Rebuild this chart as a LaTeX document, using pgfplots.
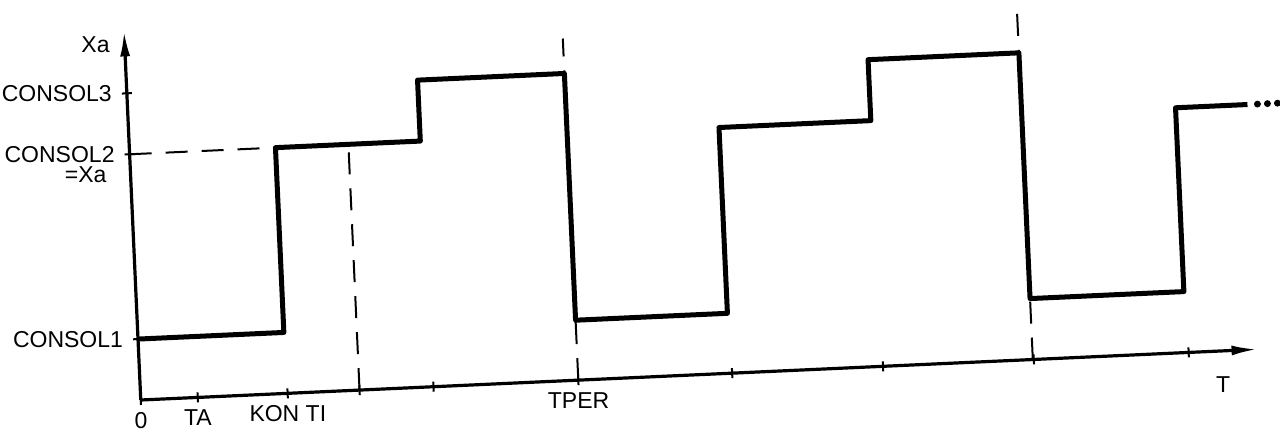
\documentclass[border=0pt]{standalone}
\usepackage{pgfplots}
\pgfplotsset{compat=1.18}
\usetikzlibrary{arrows.meta}
\usepackage{fontspec}
\setmainfont{Liberation Sans}
\begin{document}
\begin{tikzpicture}[font=\fontsize{11.5}{13}\selectfont]
\begin{axis}[
  rotate around={2.6:(0,0)},
  x=0.5pt, y=0.5pt,
  xmin=0, xmax=1118, ymin=0, ymax=370,
  axis lines=left,
  axis line style={line width=1.6pt, -{Latex[length=13pt,width=5pt]}},
  clip=false,
  xtick={0,57,147,219,293,438,592,743,894,1049},
  xticklabels={0,TA,KON TI,,,TPER,,,,},
  ytick={61,246,307},
  yticklabels={CONSOL1,CONSOL2,CONSOL3},
  tick align=center,
  major tick length=5pt,
  tick style={line width=1pt, black},
  ticklabel style={font=\fontsize{11.5}{13}\selectfont},
  yticklabel style={xshift=-1.5pt},
]
\addplot[black, line width=1pt, dash pattern=on 11pt off 7pt] coordinates {(0,246)(146,246)};
\addplot[black, line width=1pt, dash pattern=on 11pt off 7pt] coordinates {(219,0)(219,248)};
\addplot[black, line width=1pt, dash pattern=on 11pt off 7pt] coordinates {(438,0)(438,342)};
\addplot[black, line width=1pt, dash pattern=on 11pt off 7pt] coordinates {(893,0)(893,350)};
\addplot[black, line width=2.5pt, line join=round] coordinates {
(0,61)(146,61)(146,246)(291,246)(291,307)(438,307)(438,60)(590,60)(590,246)(742,246)(742,307)(893,307)(893,61)(1047,61)(1047,245)(1119,245)};
\addplot[black, only marks, mark=*, mark size=1.5pt] coordinates {(1129,245)(1139,245)(1149,245)};
\node[anchor=east] at (axis cs:-8,356) {Xa};
\node[anchor=east] at (axis cs:-17,226) {=Xa};
\node at (axis cs:1082,-34) {T};
\end{axis}
\pgfresetboundingbox
\path (-62pt,-20.5pt) rectangle (578pt,200pt);
\end{tikzpicture}
\end{document}
